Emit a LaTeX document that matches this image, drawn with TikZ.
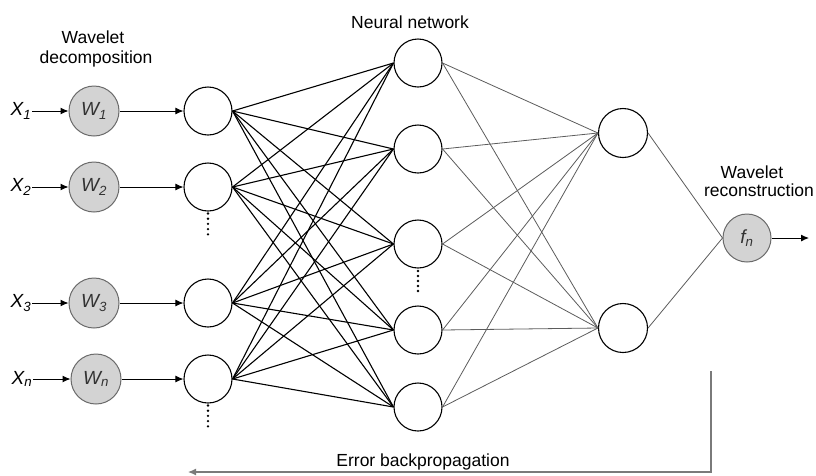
\documentclass[tikz,border=0pt]{standalone}
\usepackage{fontspec}
\setmainfont{Liberation Sans}
\usetikzlibrary{arrows.meta}
\definecolor{wfill}{HTML}{D3D3D3}
\definecolor{wedge}{HTML}{6A6A6A}
\definecolor{wtext}{HTML}{333333}
\definecolor{thinline}{HTML}{5C5C5C}
\definecolor{fbline}{HTML}{7A7A7A}
\begin{document}
\begin{tikzpicture}[x=1pt,y=-1pt,
  every node/.style={font=\fontsize{17.5}{20}\selectfont},
  sym/.style={font=\fontsize{19}{21}\selectfont\itshape},
  wnode/.style={circle,draw=wedge,fill=wfill,line width=1pt,minimum size=50pt,inner sep=0pt,sym,text=wtext},
  neuron/.style={circle,draw=black,fill=white,line width=1.1pt,minimum size=48pt,inner sep=0pt},
  lbl/.style={inner sep=1pt,sym},
  feed/.style={-{Latex[length=8pt,width=7pt]},line width=1pt},
  dense/.style={draw=black,line width=1.1pt},
  sparse/.style={draw=thinline,line width=0.8pt},
  vdots/.style={fill=black}
]
\useasboundingbox (0,0) rectangle (816,475);

% captions
\node[anchor=base] (capwl) at (93,43) {Wavelet};
\node[anchor=base] (capdec) at (96,63) {decomposition};
\node[anchor=base] (capnn) at (410,28) {Neural network};
\node[anchor=base] (capwr) at (752,178) {Wavelet};
\node[anchor=base] (caprec) at (759,196) {reconstruction};

% inputs and wavelet decomposition
\node[lbl] (x1) at (21,111) {X\textsubscript{1}};
\node[lbl] (x2) at (21,187) {X\textsubscript{2}};
\node[lbl] (x3) at (21,303) {X\textsubscript{3}};
\node[lbl] (x4) at (22,379) {X\textsubscript{n}};
\node[wnode] (w1) at (94,111) {W\textsubscript{1}};
\node[wnode] (w2) at (94,187) {W\textsubscript{2}};
\node[wnode] (w3) at (94,303) {W\textsubscript{3}};
\node[wnode] (w4) at (96,379) {W\textsubscript{n}};

% input layer
\node[neuron] (a1) at (208,111) {};
\node[neuron] (a2) at (208,187) {};
\node[neuron] (a3) at (208,303) {};
\node[neuron] (a4) at (208,379) {};

% hidden layer 1
\node[neuron] (h1) at (418,63) {};
\node[neuron] (h2) at (418,149) {};
\node[neuron] (h3) at (418,244) {};
\node[neuron] (h4) at (418,330) {};
\node[neuron] (h5) at (418,407) {};

% hidden layer 2
\node[neuron,minimum size=49pt] (g1) at (623,133) {};
\node[neuron,minimum size=49pt] (g2) at (623,328) {};

% wavelet reconstruction
\node[wnode,minimum size=48pt] (fn) at (747,238) {f\textsubscript{n}};
\coordinate (out) at (809,238);

% arrows into the network
\foreach \i in {1,...,4} {
  \draw[feed] (x\i.east) -- (w\i.west);
  \draw[feed] (w\i.east) -- (a\i.west);
}
\draw[feed] (fn.east) -- (out);

% connections
\foreach \i in {1,...,4}
  \foreach \j in {1,...,5}
    \draw[dense] (a\i.east) -- (h\j.west);
\foreach \j in {1,...,5}
  \foreach \k in {1,2}
    \draw[sparse] (h\j.east) -- (g\k.west);
\foreach \k in {1,2}
  \draw[sparse] (g\k.east) -- (fn.west);

% ellipsis dots
\foreach \d in {0,...,4} {
  \fill[vdots] (208,213.5+5.2*\d) circle (1.3pt);
  \fill[vdots] (208,405.5+5.2*\d) circle (1.3pt);
  \fill[vdots] (418,271+5*\d) circle (1.3pt);
}

% error backpropagation
\coordinate (errtop) at (711,371);
\coordinate (errend) at (188,472);
\draw[fbline,line width=1.2pt,-{Latex[length=8pt,width=7pt]}] (errtop) |- (errend);
\node[anchor=base] (errlbl) at (423,466) {Error backpropagation};
\end{tikzpicture}
\end{document}
